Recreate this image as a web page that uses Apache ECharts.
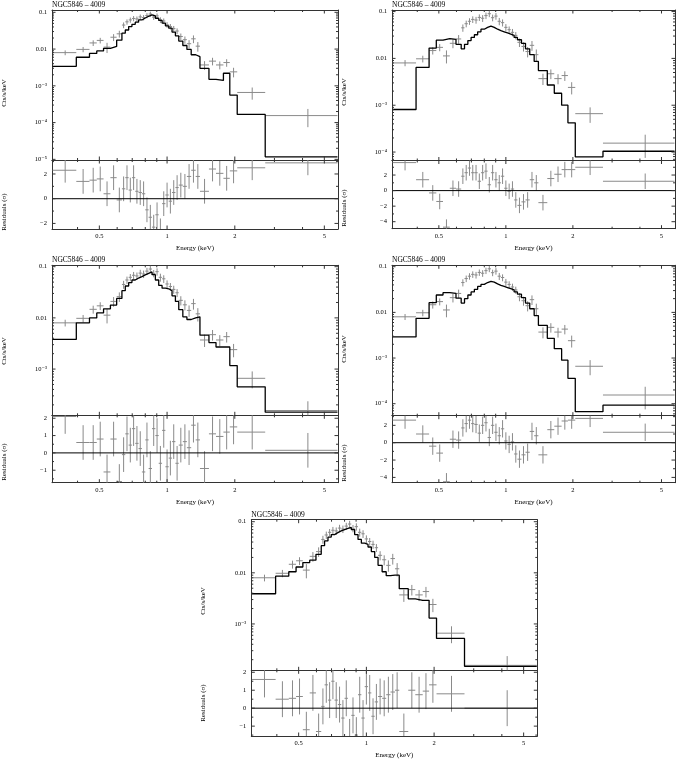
<!DOCTYPE html>
<html>
<head>
<meta charset="utf-8">
<script src="https://cdn.jsdelivr.net/npm/echarts@6.0.0/dist/echarts.min.js"></script>
<style>
  html, body { margin: 0; padding: 0; background: #fff; }
  #chart { width: 678px; height: 761px; }
</style>
</head>
<body>
<div id="chart"></div>
<script>
// energy bins (keV) - same spectrum in every panel, only the model changes
const binEdges = [0.31, 0.395, 0.452, 0.487, 0.522, 0.56, 0.597, 0.63,
  0.652, 0.675, 0.698, 0.722, 0.747, 0.773, 0.80, 0.828, 0.857, 0.887, 0.918, 0.95, 0.983, 1.017, 1.052, 1.089, 1.127,
  1.175, 1.225, 1.28, 1.34, 1.40,
  1.535, 1.65, 1.78, 1.90, 2.05, 2.73, 5.72];

// data, Cts/s/keV
const counts = [0.0080, 0.0098, 0.0147, 0.0172, 0.0113, 0.0210, 0.0260,
  0.045, 0.055, 0.062, 0.068, 0.066, 0.075, 0.072, 0.082, 0.090, 0.074, 0.080, 0.062, 0.058, 0.046, 0.041, 0.036, 0.031,
  0.022, 0.018, 0.014, 0.019, 0.012,
  0.0037, 0.0047, 0.0037, 0.0043, 0.0024, 0.00066, 0.000155];
const countErr = [0.0012, 0.0016, 0.0026, 0.0030, 0.0035, 0.0045, 0.0055,
  0.008, 0.009, 0.010, 0.011, 0.011, 0.012, 0.012, 0.013, 0.014, 0.012, 0.013, 0.011, 0.010, 0.008, 0.007, 0.0065, 0.0055,
  0.0045, 0.0040, 0.0035, 0.0045, 0.0035,
  0.0010, 0.0011, 0.0009, 0.0010, 0.0007, 0.00024, 0.00008];

// folded models, one per panel
const model1 = [0.0034, 0.0060, 0.0076, 0.0089, 0.0105, 0.0118, 0.0175,
  0.027, 0.033, 0.041, 0.047, 0.054, 0.062, 0.070, 0.078, 0.085, 0.080, 0.069, 0.060, 0.051, 0.043, 0.037, 0.029, 0.023,
  0.0165, 0.0125, 0.0098, 0.0070, 0.0062,
  0.0030, 0.0015, 0.0014, 0.0022, 0.00056, 0.000167, 0.0000117];
const model2 = [0.00081, 0.0064, 0.0166, 0.0245, 0.0265, 0.0255, 0.0200,
  0.016, 0.020, 0.024, 0.028, 0.032, 0.037, 0.042, 0.046, 0.049, 0.046, 0.042, 0.039, 0.037, 0.035, 0.033, 0.031, 0.028,
  0.025, 0.021, 0.016, 0.012, 0.0086,
  0.0055, 0.0027, 0.0018, 0.0010, 0.00042, 0.000079, 0.000104];
const model3 = [0.0038, 0.0080, 0.0100, 0.0125, 0.0150, 0.0178, 0.0240,
  0.034, 0.042, 0.049, 0.055, 0.060, 0.064, 0.069, 0.074, 0.079, 0.070, 0.055, 0.043, 0.038, 0.037, 0.034, 0.027, 0.021,
  0.0145, 0.0105, 0.0093, 0.0100, 0.0105,
  0.0046, 0.0033, 0.0027, 0.0027, 0.00117, 0.00045, 0.000144];
const model4 = [0.0029, 0.0074, 0.0163, 0.0240, 0.0270, 0.0260, 0.0205,
  0.016, 0.020, 0.024, 0.028, 0.032, 0.037, 0.041, 0.045, 0.048, 0.046, 0.042, 0.039, 0.037, 0.035, 0.033, 0.031, 0.028,
  0.025, 0.021, 0.016, 0.012, 0.0085,
  0.0052, 0.0027, 0.0016, 0.0009, 0.00036, 0.000067, 0.000093];
const model5 = [0.0039, 0.0086, 0.0105, 0.0130, 0.0159, 0.0177, 0.0230,
  0.034, 0.042, 0.050, 0.056, 0.061, 0.066, 0.070, 0.074, 0.077, 0.070, 0.056, 0.045, 0.038, 0.036, 0.032, 0.026, 0.020,
  0.0140, 0.0105, 0.0088, 0.0090, 0.0090,
  0.0049, 0.0031, 0.0029, 0.0029, 0.0013, 0.00052, 0.000148];

// residuals (sigma), one per panel
const resid1 = [2.3, 1.4, 1.5, 1.6, 0.4, 1.7, -0.1,
  0.8, 1.7, 0.7, 1.7, 0.6, 0.5, 0.4, -0.9, -1.5, -2.3, -1.3, -2.6, -0.4, 0.3, -0.2, 0.5, 0.9,
  1.1, 1.0, 1.8, 2.3, 1.8,
  0.6, 2.4, 2.05, 1.65, 2.25, 2.5, 2.9];
const resid2 = [3.6, 1.4, -0.3, -1.4, -4.7, 0.3, 0.2,
  1.85, 2.3, 2.9, 2.3, 2.3, 1.2, 2.3, 2.5, 0.75, 2.3, 1.4, 1.0, 1.85, 0.3, -0.1, 0.2, -1.2,
  -1.9, -1.45, -1.2, 1.4, 1.0,
  -1.55, 1.55, 2.1, 2.7, 2.7, 3.0, 1.2];
const resid3 = [2.1, 0.6, 0.6, 0.8, -1.1, 0.8, -1.65,
  -0.1, 1.1, 0.45, 1.4, 0.55, 0.25, -1.1, 0.75, -0.9, 1.4, 1.0, -0.6, 1.3, -0.8, -0.3, 0.65, -0.6,
  0.45, 0.65, 0.3, 1.6, 0.75,
  -0.9, 1.1, 0.95, 1.2, 1.5, 1.2, 0.15];
const resid4 = [2.6, 1.0, -0.4, -1.2, -4.5, 0.4, 0.3,
  1.7, 2.2, 2.6, 2.2, 2.1, 1.1, 2.0, 2.3, 0.6, 2.0, 1.2, 0.8, 1.6, 0.2, -0.2, 0.1, -1.3,
  -1.9, -1.4, -1.1, 1.3, 0.8,
  -1.4, 1.5, 1.9, 2.5, 2.6, 2.8, 1.2];
const resid5 = [1.6, 0.5, 0.55, 0.65, -1.2, 0.85, -1.3,
  0.1, 1.3, 0.45, 1.5, 0.45, 0.2, -0.55, 0.55, -1.6, -0.4, -1.5, 0.75, -0.55, 1.2, 0.85, -0.45, 0.35,
  0.65, 0.55, 0.75, 0.9, 1.0,
  -1.3, 1.0, 0.75, 0.95, 1.3, 0.8, 0.0];
const residErr = 1;

// tick values
const xMajorTicks = [0.5, 1, 2, 5];
const xMinorTicks = [0.4, 0.6, 0.7, 0.8, 0.9, 3, 4];
const logDecades = [1e-5, 1e-4, 1e-3, 0.01, 0.1];
const logMinorMult = [2, 3, 4, 5, 6, 7, 8, 9];
const resTicksWide = [-4, -2, 0, 2];
const resMinorWide = [-5, -3, -1, 1, 3];
const resTicksNarrow = [-1, 0, 1, 2];
const resMinorNarrow = [-1.5, -0.5, 0.5, 1.5];

const titleText = 'NGC5846 – 4009';
const X_RANGE = [0.308, 5.75];
const FONT = '"Liberation Serif", "DejaVu Serif", serif';

const panels = [
  {left: 52, width: 286, top: 10, split: 160, bottom: 229, yUp: [0.96e-5, 0.1156], yRes: [-2.45, 3.13],
    model: model1, resid: resid1, resTicks: resTicksWide, resMinor: resMinorWide, ctsY: 93, resY: 212},
  {left: 392, width: 283, top: 10, split: 160.5, bottom: 228.7, yUp: [6.6e-5, 0.108], yRes: [-4.9, 3.87],
    model: model2, resid: resid2, resTicks: resTicksWide, resMinor: resMinorWide, ctsY: 92, resY: 208},
  {left: 52, width: 286, top: 265.3, split: 415.3, bottom: 482.7, yUp: [1.25e-4, 0.1065], yRes: [-1.72, 2.17],
    model: model3, resid: resid3, resTicks: resTicksNarrow, resMinor: resMinorNarrow, ctsY: 351, resY: 462},
  {left: 392, width: 283, top: 265.3, split: 415.7, bottom: 482.7, yUp: [5.46e-5, 0.1074], yRes: [-4.61, 3.11],
    model: model4, resid: resid4, resTicks: resTicksWide, resMinor: resMinorWide, ctsY: 349, resY: 463},
  {left: 251.3, width: 286, top: 519.7, split: 670.3, bottom: 736, yUp: [1.24e-4, 0.1094], yRes: [-1.55, 2.11],
    model: model5, resid: resid5, resTicks: resTicksNarrow, resMinor: resMinorNarrow, ctsY: 601, resY: 703}
];

const SUP = {'0': '⁰', '1': '¹', '2': '²', '3': '³', '4': '⁴', '5': '⁵', '6': '⁶', '7': '⁷', '8': '⁸', '9': '⁹', '-': '⁻'};
function logLabel(v) {
  const e = Math.round(Math.log10(v));
  if (e === -1) return '0.1';
  if (e === -2) return '0.01';
  return '10' + String(e).split('').map(c => SUP[c]).join('');
}
function resLabel(v) {
  return v < 0 ? '−' + (-v) : String(v);
}

const LINE = '#333';

function frameX(g, pos) {
  return {
    type: 'log', logBase: 10, gridIndex: g, position: pos,
    min: X_RANGE[0], max: X_RANGE[1],
    axisLine: {show: true, onZero: false, lineStyle: {color: LINE, width: 1}},
    axisTick: {show: false}, axisLabel: {show: false}, splitLine: {show: false}
  };
}
function frameY(g, pos, isLog, yr) {
  return {
    type: isLog ? 'log' : 'value', gridIndex: g, position: pos,
    min: yr[0], max: yr[1],
    axisLine: {show: true, onZero: false, lineStyle: {color: LINE, width: 1}},
    axisTick: {show: false}, axisLabel: {show: false}, splitLine: {show: false}
  };
}

// inward ticks on all four sides, plus the tick labels
function tickSeries(g, yr, yMajor, yMinor, yFmt, xLabels) {
  const specs = [];
  xMajorTicks.forEach(v => specs.push({k: 'x', v: v, len: 3.5, label: xLabels ? String(v) : null}));
  xMinorTicks.forEach(v => specs.push({k: 'x', v: v, len: 2}));
  yMajor.forEach(v => specs.push({k: 'y', v: v, len: 3.5, label: yFmt(v)}));
  yMinor.forEach(v => specs.push({k: 'y', v: v, len: 2}));
  return {
    type: 'custom', xAxisIndex: 2 * g, yAxisIndex: 2 * g, clip: false, silent: true, z: 6,
    data: specs.map(s => s.k === 'x' ? [s.v, yr[0]] : [X_RANGE[0], s.v]),
    renderItem: function (params, api) {
      const s = specs[params.dataIndex];
      const st = {stroke: LINE, lineWidth: 1};
      const kids = [];
      if (s.k === 'x') {
        const b = api.coord([s.v, yr[0]]);
        const t = api.coord([s.v, yr[1]]);
        kids.push({type: 'line', shape: {x1: b[0], y1: b[1], x2: b[0], y2: b[1] - s.len}, style: st});
        kids.push({type: 'line', shape: {x1: t[0], y1: t[1], x2: t[0], y2: t[1] + s.len}, style: st});
        if (s.label) {
          kids.push({type: 'text', x: b[0], y: b[1] + 4, style: {
            text: s.label, font: '6.5px ' + FONT, fill: '#000',
            align: 'center', verticalAlign: 'top', textAlign: 'center', textVerticalAlign: 'top'}});
        }
      } else {
        const l = api.coord([X_RANGE[0], s.v]);
        const r = api.coord([X_RANGE[1], s.v]);
        kids.push({type: 'line', shape: {x1: l[0], y1: l[1], x2: l[0] + s.len, y2: l[1]}, style: st});
        kids.push({type: 'line', shape: {x1: r[0], y1: r[1], x2: r[0] - s.len, y2: r[1]}, style: st});
        if (s.label) {
          kids.push({type: 'text', x: l[0] - 5, y: l[1], style: {
            text: s.label, font: '6.5px ' + FONT, fill: '#000',
            align: 'right', verticalAlign: 'middle', textAlign: 'right', textVerticalAlign: 'middle'}});
        }
      }
      return {type: 'group', children: kids};
    }
  };
}

// data points: horizontal bar = bin width, vertical bar = error
function crossSeries(g, rows, isLog) {
  return {
    type: 'custom', xAxisIndex: 2 * g, yAxisIndex: 2 * g, clip: true, silent: true, z: 2,
    encode: {x: [0, 1], y: 2},
    data: rows,
    renderItem: function (params, api) {
      const lo = api.value(0), hi = api.value(1), v = api.value(2), e = api.value(3);
      const mid = (lo + hi) / 2;
      const vLow = isLog ? Math.max(v - e, 1e-9) : v - e;
      const a = api.coord([lo, v]), b = api.coord([hi, v]);
      const c = api.coord([mid, vLow]), d = api.coord([mid, v + e]);
      const st = {stroke: '#8a8a8a', lineWidth: 1};
      return {type: 'group', children: [
        {type: 'line', shape: {x1: a[0], y1: a[1], x2: b[0], y2: b[1]}, style: st},
        {type: 'line', shape: {x1: c[0], y1: c[1], x2: d[0], y2: d[1]}, style: st}
      ]};
    }
  };
}

const grid = [], xAxis = [], yAxis = [], series = [], graphic = [];
const nBins = counts.length;

panels.forEach((p, pi) => {
  const gU = pi * 2, gL = pi * 2 + 1;
  grid.push({left: p.left, top: p.top, width: p.width, height: p.split - p.top});
  grid.push({left: p.left, top: p.split, width: p.width, height: p.bottom - p.split});
  xAxis.push(frameX(gU, 'bottom'), frameX(gU, 'top'), frameX(gL, 'bottom'), frameX(gL, 'top'));
  yAxis.push(frameY(gU, 'left', true, p.yUp), frameY(gU, 'right', true, p.yUp),
             frameY(gL, 'left', false, p.yRes), frameY(gL, 'right', false, p.yRes));

  const upMajor = logDecades.filter(v => v >= p.yUp[0] * 0.999 && v <= p.yUp[1]);
  const upMinor = [];
  [1e-6, 1e-5, 1e-4, 1e-3, 0.01, 0.1].forEach(d => logMinorMult.forEach(m => {
    const v = d * m;
    if (v > p.yUp[0] && v < p.yUp[1]) upMinor.push(v);
  }));
  const resMajor = p.resTicks.filter(v => v >= p.yRes[0] && v <= p.yRes[1]);
  const resMinor = p.resMinor.filter(v => v >= p.yRes[0] && v <= p.yRes[1]);

  const upRows = counts.map((v, i) => [binEdges[i], binEdges[i + 1], v, countErr[i]]);
  const resRows = p.resid.map((v, i) => [binEdges[i], binEdges[i + 1], v, residErr]);

  series.push(crossSeries(gU, upRows, true));
  series.push({
    type: 'line', xAxisIndex: 2 * gU, yAxisIndex: 2 * gU, step: 'end', symbol: 'none', silent: true, z: 4,
    clip: true,
    data: binEdges.map((e, i) => [e, p.model[Math.min(i, nBins - 1)]]),
    lineStyle: {color: '#000', width: 1.3}
  });
  series.push(crossSeries(gL, resRows, false));
  series.push({
    type: 'line', xAxisIndex: 2 * gL, yAxisIndex: 2 * gL, symbol: 'none', silent: true, z: 4,
    data: [[X_RANGE[0], 0], [X_RANGE[1], 0]],
    lineStyle: {color: '#000', width: 1}
  });
  series.push(tickSeries(gU, p.yUp, upMajor, upMinor, logLabel, false));
  series.push(tickSeries(gL, p.yRes, resMajor, resMinor, resLabel, true));

  graphic.push({type: 'text', x: p.left, y: p.top - 9, silent: true,
    style: {text: titleText, font: '7.5px ' + FONT, fill: '#000', align: 'left', verticalAlign: 'top'}});
  graphic.push({type: 'text', x: p.left + p.width / 2, y: p.bottom + 19, silent: true,
    style: {text: 'Energy (keV)', font: '7px ' + FONT, fill: '#000', align: 'center', verticalAlign: 'middle'}});
  graphic.push({type: 'text', x: p.left - 48, y: p.ctsY, rotation: Math.PI / 2, silent: true,
    style: {text: 'Cts/s/keV', font: '7px ' + FONT, fill: '#000', align: 'center', verticalAlign: 'middle'}});
  graphic.push({type: 'text', x: p.left - 48, y: p.resY, rotation: Math.PI / 2, silent: true,
    style: {text: 'Residuals (σ)', font: '7px ' + FONT, fill: '#000', align: 'center', verticalAlign: 'middle'}});
});

const myChart = echarts.init(document.getElementById('chart'), null, {renderer: 'canvas'});
const option = {
  backgroundColor: '#fff',
  animation: false,
  grid: grid,
  xAxis: xAxis,
  yAxis: yAxis,
  series: series,
  graphic: graphic
};
option && myChart.setOption(option);
</script>
</body>
</html>
